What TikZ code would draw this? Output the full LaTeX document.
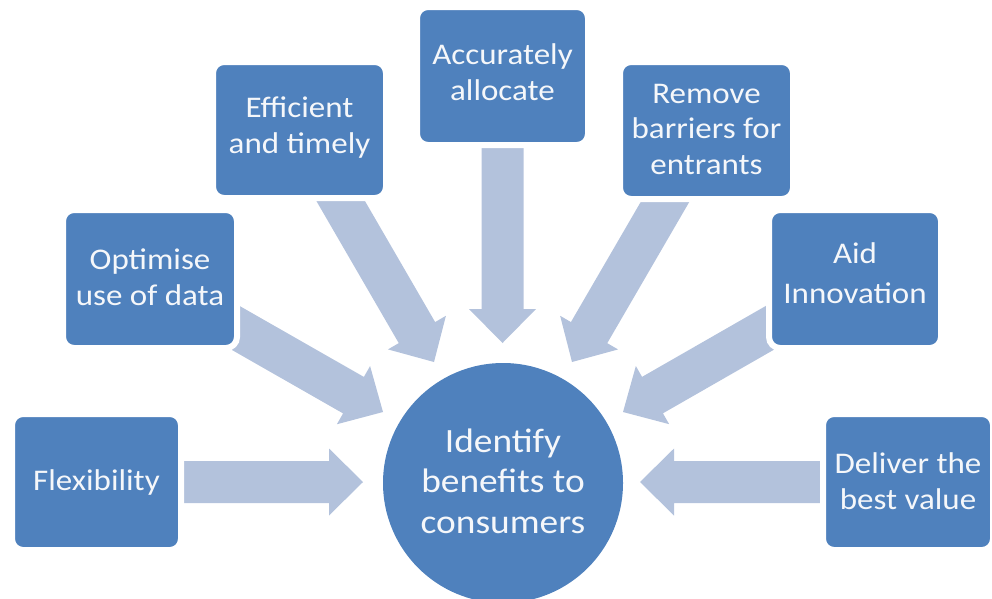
\documentclass[tikz,border=0pt]{standalone}
\usepackage{fontspec}
\setmainfont{Carlito}[FakeStretch=1.1]
\usetikzlibrary{calc}
\definecolor{boxblue}{HTML}{4F81BD}
\definecolor{arrowblue}{HTML}{B3C2DC}
\definecolor{txtwhite}{HTML}{F5F7FA}
\tikzset{
  box/.style={draw=white, line width=6pt, fill=boxblue, rounded corners=11pt, inner sep=0pt},
  boxtext/.style={text=txtwhite, align=center, inner sep=0pt, anchor=base, font=\fontsize{30}{36.5}\selectfont},
  circtext/.style={text=txtwhite, align=center, inner sep=0pt, anchor=base, font=\fontsize{34}{40.5}\selectfont},
  arrowfill/.style={fill=arrowblue}
}
\newcommand\blockarr[2]{%
  \path ($(#2)!34pt!(#1)$) coordinate (hb);
  \fill[arrowfill] ($(#1)!21pt!90:(#2)$) -- ($(hb)!21pt!-90:(#1)$) -- ($(hb)!33.5pt!-90:(#1)$) -- (#2)
    -- ($(hb)!33.5pt!90:(#1)$) -- ($(hb)!21pt!90:(#1)$) -- ($(#1)!21pt!-90:(#2)$) -- cycle;}
\begin{document}
\begin{tikzpicture}[x=1pt,y=-1pt]
\useasboundingbox (0,0) rectangle (992,598);
\clip (0,0) rectangle (992,598);
% box centres (geometry only)
\coordinate (c-flex) at (96.5,482);
\coordinate (c-opt) at (150,279);
\coordinate (c-eff) at (299.5,130);
\coordinate (c-acc) at (502.5,76);
\coordinate (c-rem) at (706.5,130.5);
\coordinate (c-aid) at (855,279);
\coordinate (c-del) at (908,482);
% arrow tips
\coordinate (t-flex) at (363,482);
\coordinate (t-opt) at (383,412);
\coordinate (t-eff) at (434,362);
\coordinate (t-acc) at (502.5,343);
\coordinate (t-rem) at (572,362);
\coordinate (t-aid) at (623,412);
\coordinate (t-del) at (640,482);
% arrows
\blockarr{c-flex}{t-flex}
\blockarr{c-opt}{t-opt}
\blockarr{c-eff}{t-eff}
\blockarr{c-acc}{t-acc}
\blockarr{c-rem}{t-rem}
\blockarr{c-aid}{t-aid}
\blockarr{c-del}{t-del}
% boxes
\node[box, minimum width=169pt, minimum height=136pt] (flex) at (c-flex) {};
\node[box, minimum width=174pt, minimum height=138pt] (opt) at (c-opt) {};
\node[box, minimum width=173pt, minimum height=136pt] (eff) at (c-eff) {};
\node[box, minimum width=171pt, minimum height=138pt] (acc) at (c-acc) {};
\node[box, minimum width=173pt, minimum height=137pt] (rem) at (c-rem) {};
\node[box, minimum width=172pt, minimum height=138pt] (aid) at (c-aid) {};
\node[box, minimum width=170pt, minimum height=136pt] (del) at (c-del) {};
% centre circle
\node[circle, fill=boxblue, minimum size=240pt, inner sep=0pt] (goal) at (503,483) {};
% texts (placed by the baseline of their last line)
\node[boxtext] (flex-t) at (96.5,490) {Flexibility};
\node[boxtext] (opt-t) at (150,305.5) {Optimise\\use of data};
\node[boxtext] (eff-t) at (299.5,153.5) {Efficient\\and timely};
\node[boxtext] (acc-t) at (502.5,100.5) {Accurately\\allocate};
\node[boxtext] (rem-t) at (706.5,174) {Remove\\[-1pt]barriers for\\[-1pt]entrants};
\node[boxtext] (aid-t) at (855,303) {Aid\\[3.5pt]Innovation};
\node[boxtext] (del-t) at (908,509.5) {Deliver the\\best value};
\node[circtext] (goal-t) at (503,533) {Identify\\benefits to\\consumers};
\end{tikzpicture}
\end{document}
